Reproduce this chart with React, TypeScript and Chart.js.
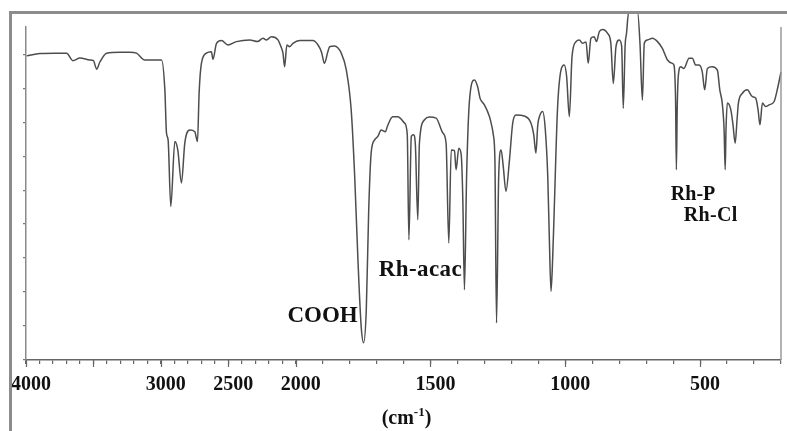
import React, { useEffect, useRef } from 'react';
import { Chart, registerables } from 'chart.js';

Chart.register(...registerables);

// Wavenumber (cm-1), high to low
const WAVENUMBERS = [
  3995, 3896, 3785, 3699, 3652, 3600, 3526, 3500, 3476, 3452,
  3402, 3304, 3230, 3180, 3119, 3044, 2995, 2970, 2958, 2946,
  2926, 2896, 2874, 2847, 2822, 2785, 2748, 2728, 2716, 2699,
  2662, 2625, 2613, 2587, 2550, 2502, 2439, 2341, 2282, 2242,
  2217, 2180, 2131, 2111, 2094, 2082, 2065, 2044, 2020, 1985,
  1936, 1917, 1904, 1893, 1881, 1874, 1856, 1831, 1812, 1794,
  1781, 1769, 1757, 1748, 1738, 1729, 1720, 1707, 1695, 1683,
  1667, 1660, 1640, 1621, 1596, 1586, 1580, 1571, 1563, 1556,
  1547, 1541, 1522, 1504, 1479, 1454, 1442, 1432, 1423, 1411,
  1405, 1395, 1386, 1380, 1374, 1366, 1356, 1337, 1325, 1316,
  1300, 1281, 1275, 1267, 1261, 1255, 1247, 1238, 1230, 1220,
  1207, 1195, 1183, 1152, 1127, 1117, 1109, 1102, 1096, 1084,
  1074, 1065, 1059, 1053, 1047, 1041, 1029, 1016, 1004, 995,
  985, 975, 960, 948, 936, 923, 915, 905, 893, 884,
  874, 862, 843, 831, 822, 812, 800, 791, 785, 778,
  773, 765, 732, 723, 714, 707, 695, 677, 658, 640,
  621, 603, 597, 591, 588, 585, 581, 572, 560, 541,
  529, 516, 504, 492, 483, 473, 455, 436, 427, 418,
  411, 407, 404, 399, 386, 378, 370, 363, 358, 343,
  325, 306, 294, 285, 278, 269, 257, 244, 226, 214,
  200,
];

// Transmittance (%), same order
const TRANSMITTANCE = [
  89.5, 90.2, 90.3, 90.3, 88.1, 88.9, 88.3, 88.1, 85.6, 87.7,
  90.3, 90.6, 90.6, 90.3, 88.3, 88.3, 88.3, 79.5, 66.8, 64.8,
  45.2, 64.3, 61.8, 52.1, 63.9, 67.7, 67.2, 64.3, 78.6, 87.3,
  90.3, 90.7, 88.5, 93.2, 94.0, 92.7, 93.7, 94.2, 93.7, 94.7,
  94.2, 95.1, 94.2, 92.4, 90.3, 86.3, 92.7, 92.2, 93.2, 94.0,
  94.0, 92.7, 90.6, 87.3, 90.6, 92.2, 92.4, 90.3, 85.3, 73.6,
  54.0, 29.5, 9.9, 5.1, 14.8, 44.2, 60.9, 64.8, 65.8, 67.7,
  67.2, 68.7, 71.6, 71.6, 69.7, 66.3, 35.4, 65.8, 66.3, 63.3,
  41.3, 63.8, 70.7, 71.5, 71.2, 66.8, 63.8, 34.4, 61.8, 61.6,
  56.0, 62.3, 60.4, 47.2, 20.7, 54.0, 75.6, 82.4, 80.4, 77.0,
  75.1, 71.6, 69.7, 66.3, 58.9, 10.9, 54.0, 61.8, 56.9, 49.6,
  58.9, 69.7, 72.1, 71.8, 69.7, 66.3, 60.9, 69.2, 71.6, 73.1,
  67.7, 54.0, 35.4, 20.2, 29.5, 44.2, 73.6, 85.3, 86.8, 83.4,
  71.6, 89.3, 93.7, 94.2, 93.2, 93.6, 87.3, 94.7, 95.1, 93.7,
  96.6, 97.3, 96.1, 93.2, 81.4, 92.2, 94.2, 92.4, 74.1, 92.7,
  96.1, 102.4, 102.4, 93.2, 76.5, 93.2, 94.2, 94.7, 93.7, 91.7,
  88.3, 87.3, 86.8, 76.5, 56.0, 73.6, 83.4, 86.3, 85.8, 88.8,
  88.8, 86.8, 86.8, 84.8, 79.5, 85.8, 86.3, 85.3, 79.5, 75.6,
  67.7, 56.0, 67.7, 75.6, 73.6, 69.2, 63.8, 70.7, 75.6, 78.5,
  79.5, 77.5, 77.1, 73.6, 69.2, 75.6, 74.6, 75.1, 76.0, 79.5,
  84.8,
];

const X_TICK_LABELS = [4000, 3000, 2500, 2000, 1500, 1000, 500];
const X_TICK_MARKS = [
  4000, 3900, 3800, 3700, 3600, 3500, 3400, 3300, 3200, 3100,
  3000, 2900, 2800, 2700, 2600, 2500, 2400, 2300, 2200, 2100,
  2000, 1900, 1800, 1700, 1600, 1500, 1400, 1300, 1200, 1100,
  1000, 900, 800, 700, 600, 500, 400, 300, 200,
];
const X_MAJOR_MARKS = [4000, 3500, 3000, 2500, 2000, 1500, 1000, 500];
const Y_TICKS = [0, 10, 20, 30, 40, 50, 60, 70, 80, 90];

const ANNOTATION_TEXT = ['COOH', 'Rh-acac', 'Rh-P', 'Rh-Cl'];
const ANNOTATION_WAVENUMBER = [1900, 1537, 526, 461];
const ANNOTATION_T = [12.8, 26.6, 48.6, 42.5];

// The spectrum uses a half-scale above 2000 cm-1 (standard IR chart convention)
function toAxis(w: number): number {
  return w <= 2000 ? w : 2000 + (w - 2000) / 2;
}
function fromAxis(u: number): number {
  return u <= 2000 ? u : 2000 + (u - 2000) * 2;
}

const SERIF = '"Liberation Serif", "Times New Roman", serif';
const ANNOTATION_STYLE: Record<string, { size: number; spacing: number }> = {
  COOH: { size: 23, spacing: 0 },
  'Rh-acac': { size: 23, spacing: 0.4 },
  'Rh-P': { size: 20, spacing: 0 },
  'Rh-Cl': { size: 20, spacing: 0.3 },
};

const decorPlugin = {
  id: 'decor',
  afterDraw(chart: any) {
    const { ctx, chartArea, scales } = chart;
    ctx.save();
    // longer major tick marks on the x axis
    ctx.strokeStyle = '#666';
    ctx.lineWidth = 1.2;
    ctx.beginPath();
    for (const w of X_MAJOR_MARKS) {
      const px = Math.round(scales.x.getPixelForValue(toAxis(w))) + 0.5;
      ctx.moveTo(px, chartArea.bottom);
      ctx.lineTo(px, chartArea.bottom + 7);
    }
    ctx.stroke();
    // right border of plot
    ctx.strokeStyle = '#9a9a9a';
    ctx.lineWidth = 1.5;
    ctx.beginPath();
    ctx.moveTo(chartArea.right, chartArea.top);
    ctx.lineTo(chartArea.right, chartArea.bottom);
    ctx.stroke();
    // outer frame (top + left)
    ctx.strokeStyle = '#8c8c8c';
    ctx.lineWidth = 3;
    ctx.beginPath();
    ctx.moveTo(10.5, 431);
    ctx.lineTo(10.5, 12.5);
    ctx.lineTo(787, 12.5);
    ctx.stroke();
    // annotations
    ctx.fillStyle = '#111';
    ctx.textAlign = 'center';
    ctx.textBaseline = 'middle';
    ANNOTATION_TEXT.forEach((text, i) => {
      const st = ANNOTATION_STYLE[text] || { size: 20, spacing: 0 };
      ctx.font = 'bold ' + st.size + 'px ' + SERIF;
      (ctx as any).letterSpacing = st.spacing + 'px';
      ctx.fillText(
        text,
        scales.x.getPixelForValue(toAxis(ANNOTATION_WAVENUMBER[i])),
        scales.y.getPixelForValue(ANNOTATION_T[i])
      );
    });
    (ctx as any).letterSpacing = '0px';
    // axis title (cm-1)
    const cx = (chartArea.left + chartArea.right) / 2 + 3;
    const base = 424;
    ctx.textAlign = 'left';
    ctx.textBaseline = 'alphabetic';
    ctx.font = 'bold 20px ' + SERIF;
    const w1 = ctx.measureText('(cm').width;
    const w3 = ctx.measureText(')').width;
    ctx.font = 'bold 13px ' + SERIF;
    const w2 = ctx.measureText('-1').width;
    let x = cx - (w1 + w2 + w3) / 2;
    ctx.font = 'bold 20px ' + SERIF;
    ctx.fillText('(cm', x, base);
    x += w1;
    ctx.font = 'bold 13px ' + SERIF;
    ctx.fillText('-1', x, base - 8);
    x += w2;
    ctx.font = 'bold 20px ' + SERIF;
    ctx.fillText(')', x, base);
    ctx.restore();
  },
};

export default function App() {
  const ref = useRef<HTMLCanvasElement | null>(null);
  useEffect(() => {
    if (!ref.current) return;
    const data = WAVENUMBERS.map((w, i) => ({ x: toAxis(w), y: TRANSMITTANCE[i] }));
    const chart = new Chart(ref.current, {
      type: 'line',
      data: {
        datasets: [
          {
            data,
            borderColor: '#4d4d4d',
            borderWidth: 1.5,
            pointRadius: 0,
            cubicInterpolationMode: 'monotone',
            clip: false as any,
          },
        ],
      },
      options: {
        animation: false,
        responsive: false,
        parsing: false as any,
        layout: { padding: { top: 27, right: 6, bottom: 31, left: 0 } },
        plugins: { legend: { display: false }, tooltip: { enabled: false } },
        scales: {
          x: {
            type: 'linear',
            reverse: true,
            min: toAxis(200),
            max: toAxis(4000),
            afterBuildTicks: (scale: any) => {
              scale.ticks = X_TICK_MARKS.map((w) => ({ value: toAxis(w) }));
            },
            afterFit: (scale: any) => {
              scale.height = 40;
              scale.paddingLeft = 0;
              scale.paddingRight = 0;
            },
            ticks: {
              autoSkip: false,
              maxRotation: 0,
              padding: 9,
              labelOffset: 5,
              color: '#111',
              font: { family: SERIF, size: 20, weight: 'bold' },
              callback: (v: any) => {
                const w = Math.round(fromAxis(Number(v)));
                return X_TICK_LABELS.includes(w) ? String(w) : '';
              },
            },
            grid: { drawOnChartArea: false, drawTicks: true, tickLength: 4, color: '#666', lineWidth: 1.2 },
            border: { display: true, color: '#666', width: 1.5 },
          },
          y: {
            type: 'linear',
            min: 0,
            max: 98,
            afterBuildTicks: (scale: any) => {
              scale.ticks = Y_TICKS.map((v) => ({ value: v }));
            },
            afterFit: (scale: any) => {
              scale.width = 26;
            },
            ticks: { display: false },
            grid: { drawOnChartArea: false, drawTicks: true, tickLength: 3, color: '#777', lineWidth: 1.2 },
            border: { display: true, color: '#8a8a8a', width: 1.5 },
          },
        },
      },
      plugins: [decorPlugin],
    } as any);
    return () => chart.destroy();
  }, []);
  return (
    <div style={{ position: 'fixed', left: 0, top: 0, width: 787, height: 431, background: '#fff' }}>
      <canvas ref={ref} width={787} height={431} style={{ width: 787, height: 431, display: 'block' }} />
    </div>
  );
}
